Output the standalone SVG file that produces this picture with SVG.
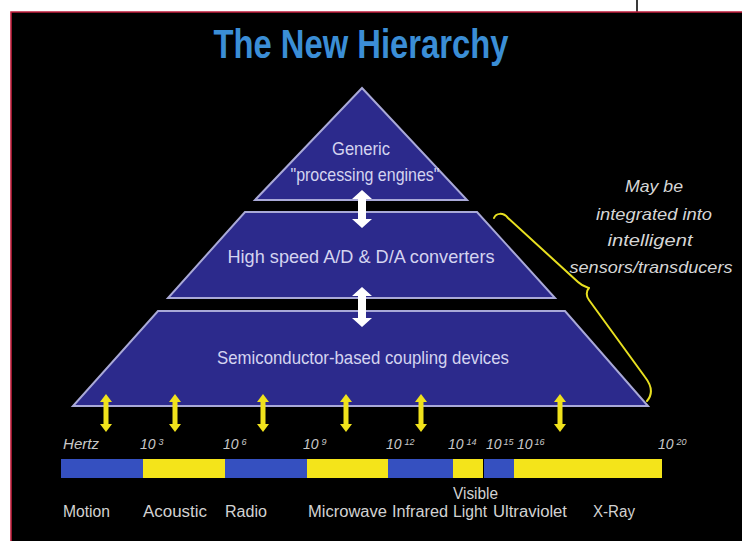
<svg xmlns="http://www.w3.org/2000/svg" xmlns:xlink="http://www.w3.org/1999/xlink" width="742" height="541" viewBox="0 0 742 541">
<style>
.tier{fill:#2c2a8c;stroke:#a9a9d8;stroke-width:2;stroke-linejoin:miter}
.pt{font-family:"Liberation Sans",Arial,sans-serif;fill:#d4d4f0;font-size:19px}
.note{font-family:"Liberation Sans",Arial,sans-serif;fill:#d6d6d6;font-size:17px;font-style:italic;text-anchor:middle}
.ax{font-family:"Liberation Sans",Arial,sans-serif;fill:#c8c8c8;font-size:14px;font-style:italic}
.sup{font-size:9px}
.lb{font-family:"Liberation Sans",Arial,sans-serif;fill:#d2d2d2;font-size:16px}
.blue{fill:#3550c0}
.yel{fill:#f4e41a}
.wa{fill:#ffffff}
.ya{fill:#f0e21c}
.brace{fill:none;stroke:#e8e020;stroke-width:2;stroke-linecap:round;stroke-linejoin:round}
</style>
<defs>
<path id="yarrow" d="M0,0 L6,8 L2.5,8 L2.5,30 L6,30 L0,38 L-6,30 L-2.5,30 L-2.5,8 L-6,8 Z"/>
</defs>
<rect x="0" y="0" width="742" height="541" fill="#ffffff"/>
<line x1="637" y1="0" x2="637" y2="12" stroke="#3a3a3a" stroke-width="2"/>
<rect x="11" y="12" width="731" height="529" fill="#000000"/>
<path d="M11,541 L11,12 L742,12" fill="none" stroke="#c01e3c" stroke-width="1.6"/>

<g id="title">
<text x="361" y="58" text-anchor="middle" textLength="295" lengthAdjust="spacingAndGlyphs" font-family="Liberation Sans, Arial, sans-serif" font-weight="bold" font-size="40" fill="#3b8ed6">The New Hierarchy</text>
</g>

<g id="tier-processing">
<polygon class="tier" points="362,88 467,200 255,200"/>
<text class="pt" x="361" y="155" text-anchor="middle" textLength="58" lengthAdjust="spacingAndGlyphs">Generic</text>
<text class="pt" x="365" y="181" text-anchor="middle" textLength="149" lengthAdjust="spacingAndGlyphs">"processing engines"</text>
</g>

<g id="tier-converters">
<polygon class="tier" points="245,212 477,212 555,298 168,298"/>
<text class="pt" x="361" y="263" text-anchor="middle" textLength="267" lengthAdjust="spacingAndGlyphs">High speed A/D &amp; D/A converters</text>
</g>

<g id="tier-coupling">
<polygon class="tier" points="158,311 565,311 648,406 73,406"/>
<text class="pt" x="363" y="364" text-anchor="middle" textLength="292" lengthAdjust="spacingAndGlyphs">Semiconductor-based coupling devices</text>
</g>

<g id="note">
<text class="note" x="654" y="192" textLength="58" lengthAdjust="spacingAndGlyphs">May be</text>
<text class="note" x="654" y="220" textLength="116" lengthAdjust="spacingAndGlyphs">integrated into</text>
<text class="note" x="650" y="246" textLength="85" lengthAdjust="spacingAndGlyphs">intelligent</text>
<text class="note" x="651" y="273" textLength="163" lengthAdjust="spacingAndGlyphs">sensors/transducers</text>
</g>

<g id="spectrum">
<rect class="blue" x="61" y="459" width="82" height="19"/>
<rect class="yel" x="143" y="459" width="82" height="19"/>
<rect class="blue" x="225" y="459" width="82" height="19"/>
<rect class="yel" x="307" y="459" width="81" height="19"/>
<rect class="blue" x="388" y="459" width="65" height="19"/>
<rect class="yel" x="453" y="459" width="30" height="19"/>
<rect class="blue" x="484" y="459" width="30" height="19"/>
<rect class="yel" x="514" y="459" width="148" height="19"/>
<text class="ax" x="63" y="449" textLength="36" lengthAdjust="spacingAndGlyphs">Hertz</text>
<text class="ax" x="140" y="449">10<tspan class="sup" dx="3" dy="-4">3</tspan></text>
<text class="ax" x="223" y="449">10<tspan class="sup" dx="3" dy="-4">6</tspan></text>
<text class="ax" x="303" y="449">10<tspan class="sup" dx="3" dy="-4">9</tspan></text>
<text class="ax" x="386" y="449">10<tspan class="sup" dx="3" dy="-4">12</tspan></text>
<text class="ax" x="448" y="449">10<tspan class="sup" dx="3" dy="-4">14</tspan></text>
<text class="ax" x="486" y="449">10<tspan class="sup" dx="2" dy="-4">15</tspan></text>
<text class="ax" x="517" y="449">10<tspan class="sup" dx="2" dy="-4">16</tspan></text>
<text class="ax" x="658" y="449">10<tspan class="sup" dx="3" dy="-4">20</tspan></text>
<text class="lb" x="63" y="517" textLength="47" lengthAdjust="spacingAndGlyphs">Motion</text>
<text class="lb" x="143" y="517" textLength="64" lengthAdjust="spacingAndGlyphs">Acoustic</text>
<text class="lb" x="225" y="517" textLength="42" lengthAdjust="spacingAndGlyphs">Radio</text>
<text class="lb" x="308" y="517" textLength="79" lengthAdjust="spacingAndGlyphs">Microwave</text>
<text class="lb" x="392" y="517" textLength="56" lengthAdjust="spacingAndGlyphs">Infrared</text>
<text class="lb" x="453" y="499" textLength="45" lengthAdjust="spacingAndGlyphs">Visible</text>
<text class="lb" x="453" y="517" textLength="34" lengthAdjust="spacingAndGlyphs">Light</text>
<text class="lb" x="493" y="517" textLength="74" lengthAdjust="spacingAndGlyphs">Ultraviolet</text>
<text class="lb" x="593" y="517" textLength="42" lengthAdjust="spacingAndGlyphs">X-Ray</text>
</g>

<g id="connectors">
<path class="wa" d="M362,190 L372,199 L366,199 L366,219 L372,219 L362,228 L352,219 L358,219 L358,199 L352,199 Z"/>
<path class="wa" d="M362,287 L372,296 L366,296 L366,318 L372,318 L362,327 L352,318 L358,318 L358,296 L352,296 Z"/>
<use class="ya" xlink:href="#yarrow" x="106" y="394"/>
<use class="ya" xlink:href="#yarrow" x="175" y="394"/>
<use class="ya" xlink:href="#yarrow" x="263" y="394"/>
<use class="ya" xlink:href="#yarrow" x="346" y="394"/>
<use class="ya" xlink:href="#yarrow" x="421" y="394"/>
<use class="ya" xlink:href="#yarrow" x="560" y="394"/>
<path class="brace" d="M494,218 C496,213 503,212 508,218 L578,282 C582,286 586,287 589,288 C586,291 586,296 589,300 L645,377 C652,386 653,394 647,401"/>
</g>
</svg>
